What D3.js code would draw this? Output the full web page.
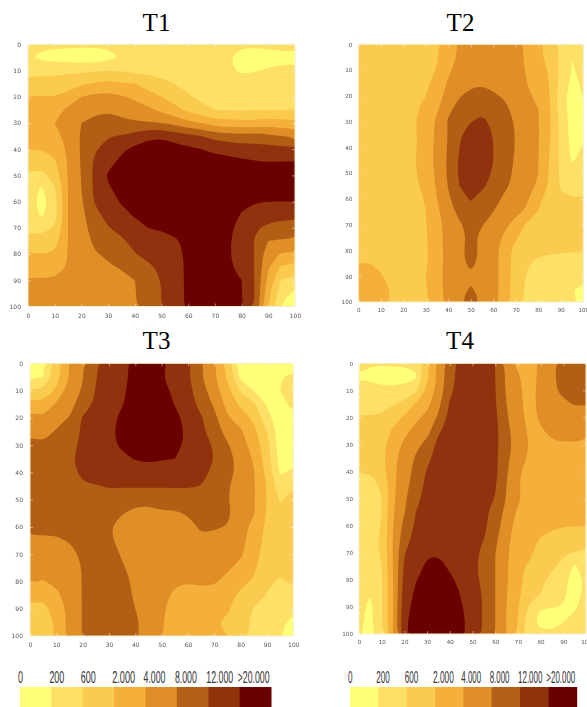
<!DOCTYPE html>
<html>
<head>
<meta charset="utf-8">
<script src="https://cdn.jsdelivr.net/npm/d3@7/dist/d3.min.js"></script>
<style>
  html, body { margin: 0; padding: 0; background: #fff; overflow: hidden; }
  svg { display: block; }
</style>
</head>
<body>
<div class="canva"></div>
<script>
// legend classes
const legendLabels = ["0", "200", "600", "2.000", "4.000", "8.000", "12.000", ">20.000"];
const legendColors = ["#FFFF78", "#FDE065", "#FACB50", "#F4B03A", "#E08E27", "#B25F18", "#8F330A", "#6B0000"];
const labelWidths = [5, 15, 15, 23, 22, 22, 27, 32];
const tickLabels = [0, 10, 20, 30, 40, 50, 60, 70, 80, 90, 100];

// Values, as a position on the legend (1 = 200, 2 = 600, 3 = 2.000 ... 7 = 20.000).
// One line per column, x = 0, 5, ... 100. Inside a line y = 0, 5, ... 100.
const t1 = [
  [1.2,1.1,1.7,2.4,3.05,3.3,3.4,3.3,3.05,2.5,1.9,1.7,1.6,1.6,1.8,2.4,3.1,3.6,4.1,4.3,4.4],
  [1.2,.8,1.7,2.4,3.05,3.3,3.4,3.3,3,2.4,1.7,.85,.55,.85,1.6,2.4,3,3.6,4.1,4.3,4.4],
  [1.2,.65,1.7,2.4,3,3.6,4,3.6,3.2,2.9,2.4,1.9,1.6,1.6,2.1,2.6,3.1,3.6,4.1,4.3,4.4],
  [1.2,.55,1.8,2.5,3.4,4.2,4.4,4.4,4.2,4.1,4.05,4,4,4,4,4,4.05,4.05,4.2,4.3,4.4],
  [1.2,.4,1.8,2.9,4,4.5,5,5.1,5.1,5.1,5.05,5,4.9,4.7,4.6,4.5,4.4,4.4,4.4,4.4,4.4],
  [1.2,.4,1.9,3.1,4.25,4.85,5.2,5.55,5.9,6.15,6.2,6.2,6.05,5.8,5.5,5.2,4.9,4.6,4.5,4.45,4.45],
  [1.2,.7,2,3.3,4.3,4.9,5.4,5.95,6.35,6.75,7.1,6.9,6.55,6.25,5.95,5.6,5.2,4.85,4.6,4.5,4.5],
  [1.2,1.05,1.9,3.1,4.1,4.65,5.25,6.05,6.85,7.2,7.4,7.3,7.1,6.7,6.3,5.85,5.5,5.1,4.7,4.6,4.6],
  [1.2,1.2,1.8,3,3.8,4.5,5.1,6.4,7.2,7.5,7.7,7.6,7.4,7.1,6.7,6.3,5.95,5.5,5,4.95,4.95],
  [1.2,1.3,1.7,2.6,3.4,4.2,5.1,6.8,7.4,7.7,7.8,7.8,7.6,7.3,7,6.6,6.25,5.85,5.5,5.4,5.4],
  [1.2,1.3,1.6,2.3,3,3.8,5,6.9,7.4,7.7,7.8,7.8,7.6,7.4,7.1,6.7,6.4,6.15,6.05,6,6],
  [1.2,1.3,1.45,2,2.6,3.3,4.7,6.5,7.4,7.7,7.8,7.8,7.7,7.5,7.25,6.9,6.7,6.6,6.6,6.55,6.55],
  [1.2,1.3,1.3,1.75,2.1,2.75,4.2,6.3,7.2,7.5,7.7,7.8,7.8,7.6,7.5,7.2,7.2,7.2,7.2,7.2,7.2],
  [1.2,1.3,1.3,1.5,1.8,2.25,4,6,7,7.4,7.6,7.8,7.8,7.7,7.6,7.5,7.5,7.4,7.4,7.4,7.4],
  [1.2,1.2,1.2,1.4,1.7,2,3.5,5.6,6.8,7.35,7.6,7.7,7.7,7.6,7.5,7.4,7.4,7.4,7.4,7.4,7.4],
  [1.2,1.1,1.1,1.35,1.65,1.95,3.4,5.5,6.7,7.3,7.5,7.6,7.5,7.3,7.2,7.1,7.1,7.15,7.2,7.25,7.3],
  [1.2,.5,.9,1.3,1.6,1.9,3.3,5.3,6.5,7.2,7.4,7.3,7.15,6.95,6.7,6.6,6.6,6.7,7,7.05,7.1],
  [1.2,.5,.95,1.3,1.6,2,3.3,5.5,6.4,7.1,7.3,7.2,7.05,6.6,6.1,5.95,5.95,5.95,5.95,5.95,5.95],
  [1.2,.65,1.1,1.3,1.6,2,3.6,5.2,6.4,7,7.3,7.3,7,6.4,5.8,5,4.37,4.1,3.7,3.3,3.15],
  [1.2,.8,1.15,1.3,1.6,2,3.3,5,6.3,7.05,7.4,7.3,7,6.4,5.5,4.9,3.9,2.8,1.9,1.3,.95],
  [1.2,.85,1.15,1.3,1.6,2,3.4,4.9,6.25,7.05,7.4,7.3,7,6.4,5.5,4.9,3.9,2.8,1.7,.8,.55]
];

const t2 = [
  [2.5,2.5,2.5,2.5,2.5,2.5,2.5,2.5,2.5,2.5,2.5,2.5,2.5,2.5,2.5,2.5,2.6,3,3.2,3.3,3.3],
  [2.5,2.5,2.5,2.5,2.5,2.5,2.5,2.5,2.5,2.5,2.5,2.5,2.5,2.5,2.5,2.5,2.6,3,3.2,3.3,3.3],
  [2.5,2.5,2.5,2.5,2.5,2.5,2.5,2.5,2.5,2.5,2.5,2.5,2.5,2.5,2.5,2.5,2.55,2.9,3.05,3.2,3.2],
  [2.5,2.5,2.5,2.5,2.5,2.5,2.5,2.5,2.5,2.5,2.5,2.5,2.5,2.5,2.5,2.5,2.5,2.6,2.8,2.95,2.95],
  [2.5,2.5,2.5,2.5,2.55,2.6,2.6,2.6,2.6,2.6,2.6,2.55,2.55,2.5,2.5,2.5,2.5,2.5,2.55,2.55,2.5],
  [2.5,2.5,2.55,2.65,2.75,2.9,2.95,2.92,2.92,2.95,2.92,2.85,2.8,2.75,2.7,2.65,2.6,2.6,2.7,2.65,2.6],
  [2.7,2.7,2.75,2.87,3,3.2,3.35,3.3,3.35,3.4,3.35,3.2,3.05,3,2.95,2.92,2.9,2.9,3,2.95,2.9],
  [2.95,2.95,3.05,3.25,3.55,3.85,4.2,4.25,4.3,4.35,4.25,4.15,4,3.8,3.6,3.5,3.45,3.45,3.5,3.45,3.35],
  [3.4,3.45,3.8,4.15,4.4,4.8,5.1,5.05,5.1,5.15,5.15,5.05,4.85,4.6,4.5,4.5,4.5,4.5,4.5,4.5,4.5],
  [4.2,4.2,4.5,4.7,4.95,5.3,5.6,5.85,6,6.15,6.15,6,5.6,5.25,4.9,4.6,4.7,4.6,4.6,4.7,4.8],
  [4.5,4.5,4.6,4.85,5.2,5.6,5.95,6.7,7,6.9,6.95,6.8,6.1,5.6,5.3,5.3,5.5,5.35,4.8,5.1,5.8],
  [4.5,4.5,4.6,4.9,5.35,5.7,6.3,6.7,6.85,6.9,6.6,6.2,5.6,5.4,5.05,4.7,4.7,4.6,4.5,4.7,4.8],
  [4.5,4.5,4.55,4.8,5.1,5.4,5.7,5.95,6,6,5.85,5.6,5.3,5,4.7,4.5,4.5,4.5,4.5,4.5,4.5],
  [4.4,4.4,4.5,4.65,4.9,5.2,5.4,5.5,5.45,5.35,5.3,5.15,4.85,4.6,4.3,3.8,3.4,3.4,3.4,3.4,3.4],
  [4.2,4.2,4.2,4.4,4.55,4.7,4.9,4.95,4.95,4.9,4.85,4.75,4.45,4.25,3.55,3.1,2.7,2.7,2.65,2.6,2.6],
  [3.9,3.9,3.95,4,4.1,4.25,4.35,4.35,4.35,4.3,4.35,4.25,4.1,3.85,2.85,2.6,2.4,2.15,1.9,1.8,1.75],
  [3.2,3.2,3.55,3.7,3.85,4,4.05,4.05,4.05,4,4,3.9,3.25,2.95,2.6,2.4,2.3,1.7,1.6,1.55,1.5],
  [2.7,2.7,2.9,2.95,3,3.1,3.1,3.1,3,2.95,2.9,2.8,2.6,2.5,2.4,2.3,2.2,1.6,1.5,1.45,1.4],
  [1.8,1.8,1.8,1.7,1.4,1.55,1.75,1.75,1.75,1.8,1.8,1.9,2.15,2.3,2.3,2.3,2.1,1.6,1.5,1.4,1.35],
  [1.1,1,.95,.8,.55,.55,.6,.6,.75,.9,1.3,1.6,2.05,2.3,2.3,2.3,2.05,1.7,1.5,1,1.15],
  [1.3,1.3,1.2,1.1,1.05,.9,.9,.95,1.05,1.3,1.5,1.7,2.1,2.3,2.3,2.3,2.05,1.7,1.5,.85,.85]
];

const t3 = [
  [.4,.95,2.15,3.5,4.35,4.9,5.2,5.3,5.4,5.4,5.4,5.3,5.15,4.9,4.6,4.35,4.05,3.45,2.8,2.6,2.5],
  [.95,.95,2.15,3.3,4.1,4.65,5.1,5.25,5.35,5.4,5.4,5.3,5.15,4.9,4.6,4.3,3.95,3.2,2.7,2.55,2.5],
  [2.6,2.6,3.2,4.15,4.6,5.1,5.3,5.4,5.45,5.45,5.4,5.3,5.2,4.9,4.6,4.3,4.2,3.8,3.4,3.15,3.1],
  [4.05,4.05,4.45,4.7,5.05,5.3,5.5,5.85,5.7,5.5,5.5,5.4,5.25,5.05,4.75,4.55,4.4,4.4,4.3,4.35,4.35],
  [4.95,4.95,5.1,5.4,6.1,6.2,6.3,6.35,6.2,5.9,5.7,5.6,5.4,5.25,5.15,5.05,5.05,5.05,5.05,5.05,5.05],
  [5.95,5.95,6.05,6.2,6.3,6.45,6.5,6.5,6.45,5.95,5.75,5.65,5.55,5.45,5.35,5.3,5.3,5.3,5.3,5.3,5.3],
  [6.4,6.4,6.5,6.55,6.7,6.85,6.85,6.8,6.6,6.05,5.8,5.6,5.05,5.2,5.4,5.5,5.5,5.5,5.5,5.5,5.5],
  [6.75,6.75,6.85,6.95,7.2,7.2,7.1,6.85,6.55,6.05,5.6,5.05,4.7,4.65,4.9,5.1,5.3,5.4,5.4,5.4,5.4],
  [7.3,7.3,7.35,7.4,7.5,7.5,7.4,7.05,6.6,6.1,5.3,4.75,4.5,4.5,4.6,4.7,4.8,4.85,5,5.15,5.15],
  [7.5,7.55,7.6,7.6,7.65,7.6,7.5,7.15,6.65,6.1,5.35,4.6,4.45,4.45,4.45,4.45,4.5,4.55,4.55,4.6,4.6],
  [7.2,7.05,7.4,7.6,7.7,7.65,7.5,7.05,6.6,6.1,5.35,4.9,4.4,4.35,4.35,4.3,4.25,4.35,4.15,4.1,4.05],
  [6.7,6.65,6.75,6.95,7.25,7.3,7.2,7,6.55,6.1,5.35,4.9,4.6,4.4,4.4,4.3,4.15,3.8,3.6,3.55,3.5],
  [6.2,6.15,6.3,6.5,6.7,6.85,6.85,6.7,6.45,6.1,5.55,5.1,4.65,4.4,4.4,4.35,4.05,3.6,3.45,3.35,3.35],
  [5.15,5.1,5.4,5.65,6.1,6.2,6.4,6.45,6.3,5.98,5.55,5.25,5.15,4.8,4.5,4.35,4.2,3.65,3.4,3.25,3.2],
  [4.15,4.15,4.45,4.85,5.25,5.55,5.9,5.98,5.8,5.5,5.3,5.2,5.1,4.7,4.5,4.4,4.1,3.7,3.2,3.05,3.05],
  [2.75,2.8,3.35,3.65,4.15,4.6,5.1,5.35,5.2,5.05,5.05,5.2,4.95,4.6,4.35,4.15,3.7,3.4,3.15,2.85,3],
  [.5,.75,1.9,2.8,3.5,4.15,4.4,4.65,4.8,4.75,4.6,4.45,4.3,4.25,4.15,3.7,3.35,2.75,2.4,2.2,2.15],
  [.3,.4,1,2.2,2.8,3.3,3.6,3.9,4.05,4.1,4.1,4.05,3.75,3.6,3.35,3.2,2.85,2.4,1.95,1.9,1.9],
  [.3,.4,.6,.9,1.3,2,2.3,2.5,2.7,2.95,2.95,2.95,2.75,2.65,2.55,2.4,2.2,1.95,1.6,1.55,1.6],
  [.4,.95,1,.7,.5,.5,.5,.6,.9,1.4,1.9,2.3,2.5,2.5,2.5,2.25,1.85,1.5,1.4,1.2,1.05],
  [.4,1.25,1.5,1.25,.8,.7,.7,.75,1.15,1.95,2.3,2.5,2.55,2.55,2.55,2.4,2.15,1.75,1.35,.7,.7]
];

const t4 = [
  [1.2,.95,1.5,1.75,2.05,2.3,2.4,2.3,2.05,1.75,1.6,1.6,1.6,1.75,2,1.7,1.5,1.4,1.3,1.2,1.1],
  [1.1,.65,1.5,1.75,2.05,2.25,2.4,2.3,2.05,1.7,1.55,1.55,1.6,1.6,1.6,1.5,1.2,1,.8,.7,.75],
  [1.1,.55,1.3,1.75,2.1,2.5,2.7,2.75,2.6,2.1,2,2,2.05,2.2,2.1,2,1.95,1.9,1.9,1.9,1.85],
  [1.15,.55,1.25,1.95,2.6,3.15,3.5,3.7,3.75,3.75,3.8,3.9,3.95,4.05,4.05,4.05,3.95,3.95,3.95,3.95,4.05],
  [1.2,.4,1.55,2.2,3.15,3.75,4.2,4.5,4.6,4.7,4.85,4.95,5.3,5.6,5.95,6.15,6.35,6.5,6.65,6.8,6.85],
  [1.2,.85,1.8,3.1,3.75,4.3,4.75,5.1,5.25,5.4,5.7,6,6.15,6.35,6.5,6.65,6.95,7.15,7.3,7.4,7.5],
  [2.9,2.8,3.2,3.7,4.3,4.65,5.3,5.7,6.1,6.3,6.4,6.5,6.55,6.65,6.9,7.15,7.4,7.55,7.65,7.7,7.7],
  [4.3,4.3,4.4,4.75,5.15,5.85,6.3,6.5,6.6,6.7,6.7,6.75,6.75,6.8,6.9,7.35,7.6,7.7,7.8,7.8,7.8],
  [5.6,5.6,5.75,6.1,6.3,6.45,6.55,6.65,6.7,6.7,6.75,6.75,6.75,6.75,6.75,6.85,7.15,7.4,7.55,7.6,7.6],
  [6.4,6.45,6.5,6.55,6.6,6.7,6.75,6.75,6.75,6.75,6.75,6.75,6.75,6.75,6.75,6.7,6.8,6.95,7.05,7.1,7.1],
  [6.6,6.6,6.65,6.7,6.7,6.75,6.75,6.75,6.75,6.75,6.75,6.7,6.6,6.4,6.3,6.25,6.3,6.5,6.75,6.8,6.8],
  [6.4,6.4,6.5,6.5,6.5,6.55,6.55,6.55,6.55,6.5,6.4,6.25,6.25,6,5.75,5.7,5.75,5.9,5.85,5.85,5.85],
  [6,6,6.02,6.1,6.2,6.3,6.3,6.25,6.25,6.1,5.95,5.6,5.4,5.2,5,5,5,5,5,5,5],
  [4.8,4.8,4.9,5,5.1,5.2,5.25,5.15,5.1,5,4.95,4.7,4.5,4.35,4.2,4.15,4.1,4.05,4,3.95,4],
  [3.7,4.2,4.3,4.3,4.4,4.6,4.7,4.6,4.2,4.1,4.2,3.85,3.55,3.35,3.2,3.15,3.3,3.2,3.1,2.95,2.9],
  [3.2,3.2,3.5,3.6,3.7,3.85,3.95,3.85,3.5,3.45,3.45,3.45,3.4,3.3,3.2,2.9,2.6,2.4,1.9,1.4,1.5],
  [4.4,4.4,4.4,4.3,4.15,3.9,3.6,3.45,3.4,3.4,3.4,3.4,3.3,2.95,2.6,2.35,2.2,2,1.05,.6,1.2],
  [4.85,4.85,4.85,4.75,4.5,4.2,3.9,3.6,3.5,3.5,3.5,3.45,3.1,2.8,2.5,2.15,1.75,1.5,1.05,.55,1.2],
  [5.3,5.3,5.2,4.85,4.6,4.3,3.9,3.6,3.5,3.5,3.5,3.4,3.05,2.65,2.15,1.7,1.35,1.2,.95,.95,1.3],
  [5.35,5.35,5.3,5.05,4.65,4.25,3.95,3.65,3.55,3.5,3.5,3.4,3,2.6,1.95,.85,.45,.55,.85,1.3,1.4],
  [5.4,5.4,5.3,5.05,4.6,4.15,3.9,3.65,3.55,3.5,3.5,3.4,3.05,2.5,1.9,1.6,1.2,1.3,1.4,1.5,1.5]
];

const gridSize = 21;
const gridStep = 5;

const svg = d3.select(".canva").append("svg")
  .attr("width", 587)
  .attr("height", 707);

// slight blur, the original is a resized raster
const defs = svg.append("defs");
defs.append("filter").attr("id", "soft")
  .attr("x", "-5%").attr("y", "-5%").attr("width", "110%").attr("height", "110%")
  .append("feGaussianBlur").attr("stdDeviation", 0.6);
defs.append("filter").attr("id", "softText")
  .attr("x", "-5%").attr("y", "-5%").attr("width", "110%").attr("height", "110%")
  .append("feGaussianBlur").attr("stdDeviation", 0.3);

const thresholds = d3.range(1, legendColors.length);
const contours = d3.contours().size([gridSize, gridSize]).thresholds(thresholds);
const ringLine = d3.line().curve(d3.curveBasisClosed);

function drawPanel(p) {
  const x = d3.scaleLinear().domain([0, 100]).range([p.left, p.right]);
  const y = d3.scaleLinear().domain([0, 100]).range([p.top, p.bottom]);

  // d3.contours puts grid value i at i + 0.5
  const gx = c => x((c - 0.5) * gridStep);
  const gy = c => y((c - 0.5) * gridStep);

  const values = d3.transpose(p.columns).flat();

  defs.append("clipPath").attr("id", "clip-" + p.name)
    .append("rect")
    .attr("x", p.left).attr("y", p.top)
    .attr("width", p.right - p.left).attr("height", p.bottom - p.top);

  const plot = svg.append("g")
    .attr("clip-path", `url(#clip-${p.name})`)
    .append("g")
    .attr("filter", "url(#soft)");

  plot.append("rect")
    .attr("x", p.left - 5).attr("y", p.top - 5)
    .attr("width", p.right - p.left + 10).attr("height", p.bottom - p.top + 10)
    .attr("fill", legendColors[0]);

  plot.selectAll("path")
    .data(contours(values))
    .enter().append("path")
    .attr("fill", d => legendColors[d.value])
    .attr("fill-rule", "evenodd")
    .attr("d", d => d.coordinates.map(poly => poly.map(ring =>
      ringLine(ring.slice(0, -1).map(pt => [gx(pt[0]), gy(pt[1])]))
    ).join("")).join(""));

  // light frame and the small inner tick marks
  svg.append("rect")
    .attr("x", p.left).attr("y", p.top)
    .attr("width", p.right - p.left).attr("height", p.bottom - p.top)
    .attr("fill", "none")
    .attr("stroke", "#f2eecb")
    .attr("stroke-width", 1);

  const marks = [
    [d3.axisTop(x), 0, p.top, 3],
    [d3.axisBottom(x), 0, p.bottom, 3],
    [d3.axisLeft(y), p.left, 0, 3],
    [d3.axisRight(y), p.right, 0, 3]
  ];
  marks.forEach(m => {
    const g = svg.append("g")
      .attr("transform", `translate(${m[1]},${m[2]})`)
      .call(m[0].tickValues(tickLabels).tickSize(-m[3]).tickFormat(""));
    g.select(".domain").remove();
    g.selectAll("line").attr("stroke", "#fff").attr("stroke-opacity", 0.45);
  });

  // tick labels
  const xAxis = svg.append("g")
    .attr("transform", `translate(0,${p.bottom})`)
    .attr("filter", "url(#softText)")
    .call(d3.axisBottom(x).tickValues(tickLabels).tickSize(0).tickPadding(p.pad));
  const yAxis = svg.append("g")
    .attr("transform", `translate(${p.left},0)`)
    .attr("filter", "url(#softText)")
    .call(d3.axisLeft(y).tickValues(tickLabels).tickSize(0).tickPadding(p.pad));
  [xAxis, yAxis].forEach(a => {
    a.select(".domain").remove();
    a.selectAll("text")
      .attr("font-family", "DejaVu Sans")
      .attr("font-size", p.tickSize)
      .attr("fill", "#555");
  });

  svg.append("text")
    .attr("x", p.titleX).attr("y", p.titleY)
    .attr("text-anchor", "middle")
    .attr("font-family", "Liberation Serif")
    .attr("font-size", 25)
    .attr("fill", "#000")
    .text(p.name);
}

function drawLegend(left, right, top) {
  const x = d3.scaleBand().domain(legendLabels).range([left, right]);
  const squeeze = (right - left) / 251;

  svg.selectAll(null)
    .data(legendLabels)
    .enter().append("rect")
    .attr("x", d => x(d))
    .attr("y", top)
    .attr("width", x.bandwidth() + 0.5)
    .attr("height", 707 - top)
    .attr("fill", (d, i) => legendColors[i]);

  // narrow labels, squeezed to the width they have in the picture
  svg.selectAll(null)
    .data(legendLabels)
    .enter().append("text")
    .attr("font-family", "Liberation Sans")
    .attr("font-size", 17)
    .attr("fill", "#333")
    .text(d => d)
    .attr("transform", function(d, i) {
      const sx = labelWidths[i] * squeeze / this.getComputedTextLength();
      return `translate(${x(d) - 2},${top - 4.5}) scale(${sx},1)`;
    });
}

drawPanel({ name: "T1", columns: t1, left: 28, right: 295, top: 44.3, bottom: 306.5, pad: 7, tickSize: 6, titleX: 156.5, titleY: 30.5 });
drawPanel({ name: "T2", columns: t2, left: 358.3, right: 583.3, top: 44.3, bottom: 302, pad: 6, tickSize: 5.6, titleX: 460.5, titleY: 30.5 });
drawPanel({ name: "T3", columns: t3, left: 30, right: 293.3, top: 363.3, bottom: 636, pad: 7, tickSize: 6, titleX: 156.5, titleY: 349 });
drawPanel({ name: "T4", columns: t4, left: 359, right: 586, top: 363.3, bottom: 634, pad: 6, tickSize: 5.6, titleX: 460, titleY: 349 });

drawLegend(20, 271, 687);
drawLegend(350, 576.7, 687);
</script>
</body>
</html>
